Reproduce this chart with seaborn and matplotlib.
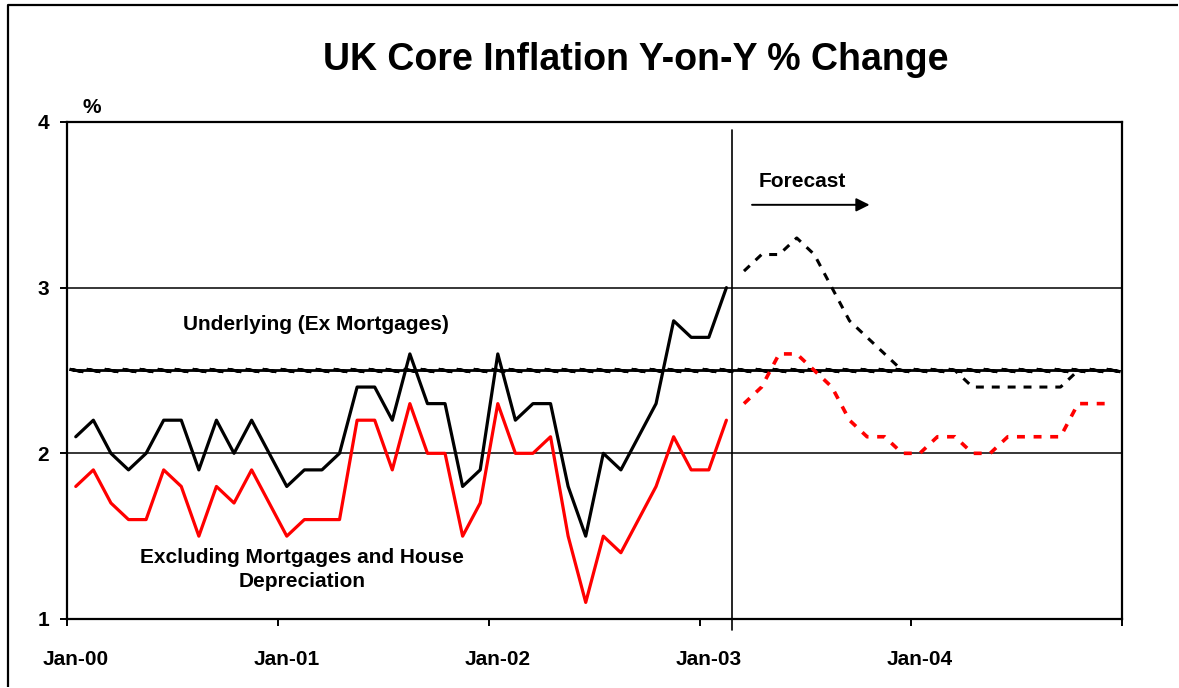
import numpy as np
import pandas as pd
import seaborn as sns
import matplotlib.pyplot as plt
from matplotlib.lines import Line2D

# chart values
year_labels = ["Jan-00", "Jan-01", "Jan-02", "Jan-03", "Jan-04"]
core_actual = [2.1, 2.2, 2.0, 1.9, 2.0, 2.2, 2.2, 1.9, 2.2, 2.0, 2.2, 2.0,
               1.8, 1.9, 1.9, 2.0, 2.4, 2.4, 2.2, 2.6, 2.3, 2.3, 1.8, 1.9,
               2.6, 2.2, 2.3, 2.3, 1.8, 1.5, 2.0, 1.9, 2.1, 2.3, 2.8, 2.7,
               2.7, 3.0]
excl_actual = [1.8, 1.9, 1.7, 1.6, 1.6, 1.9, 1.8, 1.5, 1.8, 1.7, 1.9, 1.7,
               1.5, 1.6, 1.6, 1.6, 2.2, 2.2, 1.9, 2.3, 2.0, 2.0, 1.5, 1.7,
               2.3, 2.0, 2.0, 2.1, 1.5, 1.1, 1.5, 1.4, 1.6, 1.8, 2.1, 1.9,
               1.9, 2.2]
core_forecast = [3.1, 3.2, 3.2, 3.3, 3.2, 3.0, 2.8, 2.7, 2.6, 2.5, 2.5, 2.5,
                 2.5, 2.4, 2.4, 2.4, 2.4, 2.4, 2.4, 2.5, 2.5, 2.5]
excl_forecast = [2.3, 2.4, 2.6, 2.6, 2.5, 2.4, 2.2, 2.1, 2.1, 2.0, 2.0, 2.1,
                 2.1, 2.0, 2.0, 2.1, 2.1, 2.1, 2.1, 2.3, 2.3, 2.3]
target = 2.5

n_act = len(core_actual)
n_all = n_act + len(core_forecast)
months_act = np.arange(n_act)
months_fc = np.arange(n_act, n_all)
months_all = np.arange(n_all)

sns.set_theme(style="white")
plt.rcParams['font.family'] = ['Liberation Sans', 'DejaVu Sans']
plt.rcParams['font.weight'] = 'bold'
for k in ["text.color", "axes.labelcolor", "xtick.color", "ytick.color"]:
    plt.rcParams[k] = "black"

fig = plt.figure(figsize=(11.79, 6.88), dpi=100)
ax = fig.add_axes([0.0568, 0.1003, 0.8949, 0.7224])

# underlying target line with its notched look
sns.lineplot(x=months_all, y=np.full(n_all, target), ax=ax, color="black",
             lw=2.0, marker=(2, 2, 80), markersize=10, markeredgewidth=2.2,
             markeredgecolor="black")

sns.lineplot(x=months_act, y=core_actual, ax=ax, color="black", lw=2.3)
sns.lineplot(x=months_act, y=excl_actual, ax=ax, color="#ff0000", lw=2.3)
sns.lineplot(x=months_fc, y=core_forecast, ax=ax, color="black", lw=2.2,
             linestyle=(0, (2.6, 2.6)))
sns.lineplot(x=months_fc, y=excl_forecast, ax=ax, color="#ff0000", lw=2.6,
             linestyle=(0, (2.2, 2.4)))

ax.set_xlim(-0.5, n_all - 0.5)
ax.set_ylim(1, 4)
ax.set_yticks([1, 2, 3, 4])
ax.set_yticklabels(["1", "2", "3", "4"], fontsize=15, fontweight="bold")
ax.set_xticks(np.arange(-0.5, n_all, 12))
ax.set_xticklabels([])
ax.set_xticks(np.arange(0, n_all, 12), minor=True)
ax.set_xticklabels(year_labels, minor=True, fontsize=15, fontweight="bold")
ax.tick_params(axis="x", which="major", direction="out", length=5, width=1.4,
               color="black", bottom=True)
ax.tick_params(axis="x", which="minor", length=0, pad=22)
ax.tick_params(axis="y", direction="out", length=5, width=1.4, color="black",
               left=True, pad=8)
for s in ax.spines.values():
    s.set_color("black")
    s.set_linewidth(1.6)
for yv in [2, 3]:
    ax.axhline(yv, color="black", lw=1.1, zorder=0)
ax.set_xlabel("")
ax.set_ylabel("")

# forecast divider
ax.axvline(n_act - 0.7, ymin=-0.022, ymax=0.984, color="black", lw=1.2,
           clip_on=False)

ax.text(-0.5 + 0.9, 4.03, "%", fontsize=15, fontweight="bold",
        ha="left", va="bottom")
ax.text(13.67, 2.78, "Underlying (Ex Mortgages)", fontsize=15,
        fontweight="bold", ha="center", va="center")
ax.text(12.87, 1.30, "Excluding Mortgages and House\nDepreciation",
        fontsize=15, fontweight="bold", ha="center", va="center",
        linespacing=1.35)
ax.text(41.3, 3.64, "Forecast", fontsize=15, fontweight="bold",
        ha="center", va="center")
ax.annotate("", xy=(45.3, 3.50), xytext=(38.3, 3.50),
            arrowprops=dict(arrowstyle="-|>", color="black", lw=1.4,
                            mutation_scale=20))

fig.text(0.539, 0.913, "UK Core Inflation Y-on-Y % Change", fontsize=27,
         fontweight="bold", ha="center", va="center")

# outer chart frame, cut off at the right and bottom
bx, by = 8 / 1179, 1 - 5 / 688
fig.add_artist(Line2D([bx, bx, 0.999], [0.001, by, by],
                      transform=fig.transFigure, color="black", lw=1.6,
                      solid_capstyle="butt"))

fig.savefig("out.png", dpi=100)
